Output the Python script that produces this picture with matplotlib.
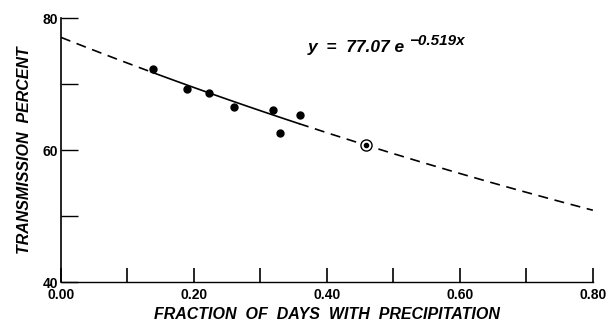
import numpy as np
import matplotlib
matplotlib.use('Agg')
import matplotlib.pyplot as plt

plt.rcParams['font.family'] = ['Liberation Sans', 'DejaVu Sans']

# observed points
frac_days = [0.139, 0.190, 0.222, 0.260, 0.319, 0.329, 0.360]
transmission = [72.3, 69.3, 68.6, 66.5, 66.0, 62.6, 65.3]
# circled point
circ_x = [0.459]
circ_y = [60.8]

# fit y = a * exp(b x)
fit_a = 77.07
fit_b = -0.519
fit_solid = [0.136, 0.358]
fit_range = [0.0, 0.80]

x_major = [0.0, 0.2, 0.4, 0.6, 0.8]
x_labels = ['0.00', '0.20', '0.40', '0.60', '0.80']
x_minor = [0.1, 0.3, 0.5, 0.7]
y_major = [40, 60, 80]
y_minor = [50, 70]


def fit(x):
    return fit_a * np.exp(fit_b * x)


fig = plt.figure(figsize=(6.12, 3.22), dpi=100)
ax = fig.add_axes([0.0997, 0.124, 0.869, 0.820])

xs1 = np.linspace(fit_range[0], fit_solid[0], 50)
xs2 = np.linspace(fit_solid[1], fit_range[1], 200)
xs3 = np.linspace(fit_solid[0], fit_solid[1], 100)
ax.plot(xs1, fit(xs1), color='black', lw=1.2, dashes=(6, 4))
ax.plot(xs2, fit(xs2), color='black', lw=1.2, dashes=(6, 4))
ax.plot(xs3, fit(xs3), color='black', lw=1.2)

ax.plot(frac_days, transmission, 'o', color='black', ms=5)
ax.plot(circ_x, circ_y, 'o', mfc='white', mec='black', mew=1.0, ms=8)
ax.plot(circ_x, circ_y, 'o', color='black', ms=3)

# equation label: base and exponent
ax.text(0.371, 74.85, 'y  =  77.07 e', fontsize=12.5, fontstyle='italic',
        fontweight='bold', ha='left', va='baseline')
ax.text(0.523, 75.9, '\u22120.519x', fontsize=11, fontstyle='italic',
        fontweight='bold', ha='left', va='baseline')

ax.set_xlim(0, 0.80)
ax.set_ylim(40, 80)
ax.spines['top'].set_visible(False)
ax.spines['right'].set_visible(False)
ax.spines['left'].set_linewidth(1.2)
ax.spines['bottom'].set_linewidth(1.0)

ax.set_xticks(x_major)
ax.set_xticklabels(x_labels, fontweight='bold')
ax.set_xticks(x_minor, minor=True)
ax.set_yticks(y_major)
ax.set_yticks(y_minor, minor=True)
for lab in ax.get_yticklabels():
    lab.set_fontweight('bold')
ax.tick_params(axis='x', which='both', direction='in', length=10, width=1.2,
               labelsize=10, pad=4)
ax.tick_params(axis='y', which='both', direction='in', length=12, width=1.0,
               labelsize=10, pad=2)

ax.set_xlabel('FRACTION  OF  DAYS  WITH  PRECIPITATION', fontsize=11.5,
              fontstyle='italic', fontweight='bold', labelpad=4)
ax.set_ylabel('TRANSMISSION  PERCENT', fontsize=11.5, fontstyle='italic',
              fontweight='bold', labelpad=8)

fig.savefig('out.png', dpi=100)
